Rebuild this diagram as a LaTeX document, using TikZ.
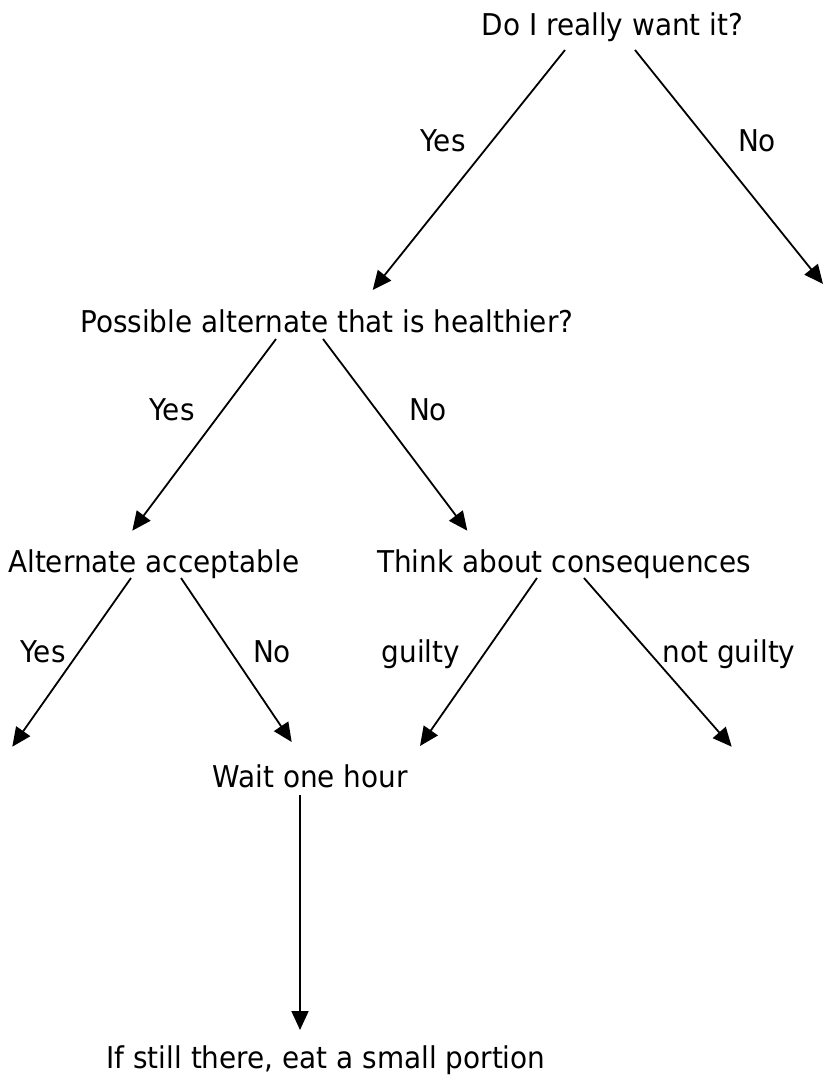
\documentclass[tikz,border=0pt]{standalone}
\usepackage{fontspec}
\setmainfont{DejaVu Sans}[FakeStretch=0.93]
\usetikzlibrary{arrows.meta}
\begin{document}
\begin{tikzpicture}[x=1pt,y=-1pt,
  txt/.style={inner sep=0pt, font=\fontsize{30}{36}\selectfont},
  arr/.style={line width=1.8pt, -{Triangle[length=19pt,width=17pt]}}]
\useasboundingbox (0,0) rectangle (825,1084);
\fill[white] (0,0) rectangle (825,1084);
% main texts
\node[txt, anchor=base] (q1) at (612.5,35) {Do I really want it?};
\node[txt, anchor=base west] (q2) at (80,332) {Possible alternate that is healthier?};
\node[txt, anchor=base west] (alt) at (8,572) {Alternate acceptable};
\node[txt, anchor=base west] (think) at (377,572) {Think about consequences};
\node[txt, anchor=base east] (wait) at (408,787) {Wait one hour};
\node[txt, anchor=base] (eat) at (326,1068) {If still there, eat a small portion};
% connector ends
\coordinate (q1a) at (565,50);
\coordinate (q1b) at (635,50);
\coordinate (q1yes) at (372.7,290);
\coordinate (q1no) at (823,284);
\coordinate (q2a) at (276,339);
\coordinate (q2b) at (323,339);
\coordinate (q2yes) at (132.3,530.7);
\coordinate (q2no) at (467.3,530.7);
\coordinate (alta) at (131,578);
\coordinate (altb) at (181,578);
\coordinate (altyes) at (12.3,746.7);
\coordinate (altno) at (291.7,742);
\coordinate (tha) at (537,578);
\coordinate (thb) at (584,578);
\coordinate (thg) at (420,746);
\coordinate (thng) at (731.7,746.7);
\coordinate (waita) at (300,795);
\coordinate (eattop) at (300,1030);
% arrows
\draw[arr] (q1a) -- (q1yes);
\draw[arr] (q1b) -- (q1no);
\draw[arr] (q2a) -- (q2yes);
\draw[arr] (q2b) -- (q2no);
\draw[arr] (alta) -- (altyes);
\draw[arr] (altb) -- (altno);
\draw[arr] (tha) -- (thg);
\draw[arr] (thb) -- (thng);
\draw[arr] (waita) -- (eattop);
% labels
\node[txt, anchor=base] (l1y) at (443,151) {Yes};
\node[txt, anchor=base] (l1n) at (757,151) {No};
\node[txt, anchor=base] (l2y) at (172,420) {Yes};
\node[txt, anchor=base] (l2n) at (428,420) {No};
\node[txt, anchor=base] (l3y) at (43,662) {Yes};
\node[txt, anchor=base] (l3n) at (272,662) {No};
\node[txt, anchor=base] (l3g) at (421,662) {guilty};
\node[txt, anchor=base] (l3ng) at (729,662) {not guilty};
\end{tikzpicture}
\end{document}
